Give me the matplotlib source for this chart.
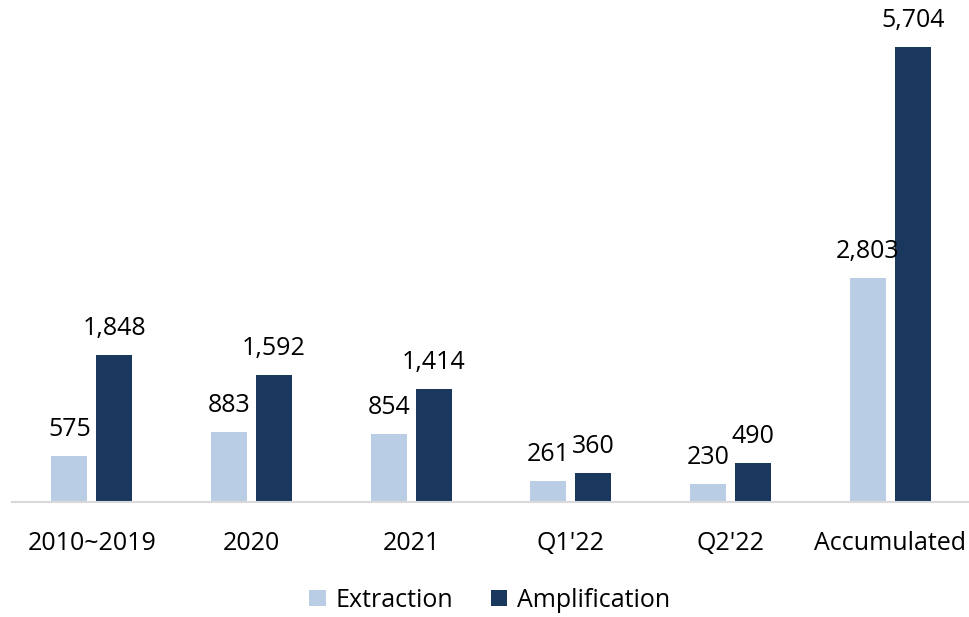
import matplotlib.pyplot as plt
import numpy as np

plt.rcParams['font.family'] = ['Open Sans', 'DejaVu Sans']

# Data
categories = ['2010~2019', '2020', '2021', "Q1'22", "Q2'22", 'Accumulated']
extraction = [575, 883, 854, 261, 230, 2803]
amplification = [1848, 1592, 1414, 360, 490, 5704]

light = '#B9CDE4'
dark = '#1A375E'

fig = plt.figure(figsize=(9.7, 6.17), dpi=100)
ax = fig.add_axes([0.0124, 0.1864, 0.9876, 0.781])

x = np.arange(len(categories))
w = 0.225
off = 0.141

b1 = ax.bar(x - off, extraction, w, color=light, label='Extraction')
b2 = ax.bar(x + off, amplification, w, color=dark, label='Amplification')

for bars, vals in [(b1, extraction), (b2, amplification)]:
    for rect, v in zip(bars, vals):
        ax.annotate(f'{v:,}', (rect.get_x() + rect.get_width() / 2, rect.get_height()),
                    xytext=(0, 10), textcoords='offset points',
                    ha='center', va='bottom', fontsize=18, color='#000000')

ax.set_xlim(-0.5, 5.5)
ax.set_ylim(0, 6040)
ax.set_xticks(x)
ax.set_xticklabels(categories, fontsize=18)
ax.tick_params(axis='x', length=0, pad=21)
ax.set_yticks([])
for s in ['top', 'right', 'left']:
    ax.spines[s].set_visible(False)
ax.spines['bottom'].set_color('#D9D9D9')
ax.spines['bottom'].set_linewidth(1.5)

fig.legend(loc='center', bbox_to_anchor=(0.505, 0.027), ncol=2, frameon=False,
           fontsize=18, handlelength=0.65, handleheight=0.65, handletextpad=0.4,
           columnspacing=1.5)

fig.savefig('out.png', dpi=100)
